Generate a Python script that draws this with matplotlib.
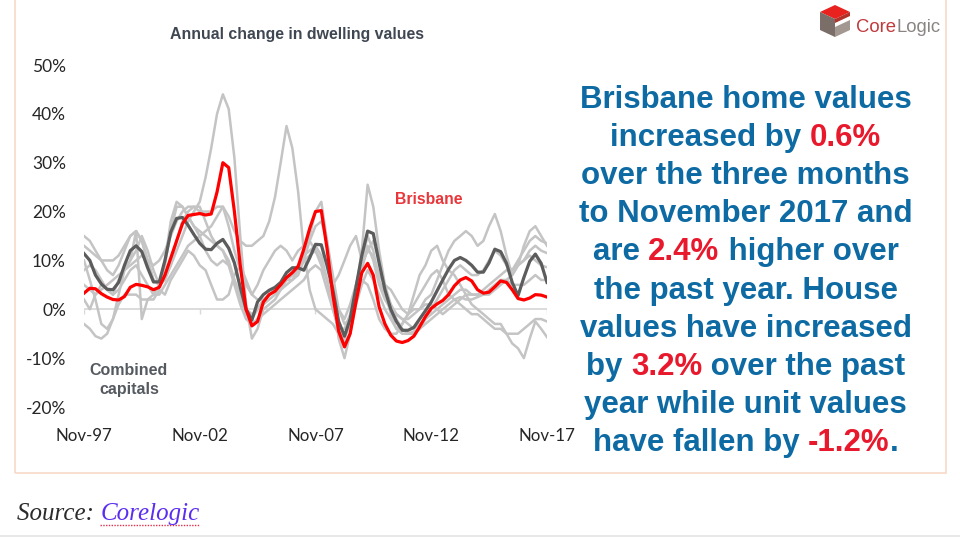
import matplotlib
matplotlib.use("Agg")
import matplotlib.pyplot as plt
from matplotlib.patches import Rectangle, Polygon
from matplotlib.lines import Line2D
import pandas as pd

W, H = 960, 538

# ---------------- data (quarterly, Nov-97 .. Nov-17) ----------------
dates = pd.date_range("1997-11-01", "2017-11-01", freq="3MS")

brisbane = [3.3, 4.3, 4.2, 3.2, 2.5, 2.0, 1.9, 2.6, 4.5, 5.1, 4.9, 4.6,
            4.0, 4.5, 7.0, 10.5, 14.0, 17.5, 19.2, 19.4, 19.6, 19.3, 19.5, 24.0,
            30.0, 29.0, 20.0, 9.0, 0.0, -3.4, -2.5, 1.5, 3.0, 3.7, 5.0, 6.5,
            7.5, 8.8, 12.3, 16.5, 20.0, 20.2, 12.5, 3.0, -4.5, -7.7, -5.0, 1.5,
            7.5, 9.4, 7.0, 0.5, -3.0, -5.3, -6.5, -6.8, -6.4, -5.5, -3.6, -1.5,
            0.2, 1.1, 1.8, 3.0, 4.8, 6.0, 6.5, 5.8, 4.0, 3.3, 3.5, 4.6,
            5.8, 5.5, 4.0, 2.2, 1.9, 2.3, 3.0, 2.9, 2.5]

combined = [11.4, 10.0, 7.0, 5.2, 4.1, 4.0, 5.5, 9.0, 12.0, 13.0, 11.8, 8.5,
            5.6, 5.6, 10.0, 15.8, 18.6, 18.8, 17.2, 15.3, 13.5, 12.3, 12.2, 13.5,
            14.3, 12.5, 9.5, 4.5, 0.0, -2.2, 1.5, 3.0, 3.9, 4.5, 5.5, 7.5,
            8.5, 8.5, 8.0, 10.5, 13.3, 13.2, 9.0, 4.0, -2.5, -5.5, -2.0, 4.5,
            11.0, 16.0, 15.5, 9.5, 4.0, 0.0, -2.5, -4.3, -4.3, -3.7, -2.0, -0.3,
            1.5, 3.8, 6.0, 8.2, 10.0, 10.6, 10.0, 9.0, 7.6, 7.6, 9.5, 12.3,
            11.8, 9.4, 5.5, 2.8, 6.5, 9.8, 11.3, 9.4, 5.5]

hobart = [-3, -4, -5.5, -6, -5, -2, 1, 3, 3, 3, 2, 2,
          3, 5, 7, 9, 12, 15, 18, 20, 22, 27, 33, 40,
          44, 41, 31, 15, 1, -6, -4, 0, 1, 2, 4, 6,
          7, 9, 11, 12, 13, 11, 6, 0, -4, -7, -5, 1,
          5, 8, 6, 3, 0, -2, -4, -5, -5, -4.5, -4, -3,
          -2, -1, 0, 1, 2, 2.5, 2, 2, 2.5, 3, 3, 4,
          5, 6, 7, 9, 10, 12, 13, 12, 11.5]

perth = [8, 9, 8, 6, 4, 3, 4, 6, 8, 9, 7, 5,
         3, 3, 5, 7, 9, 11, 13, 14, 15, 16, 17, 19,
         21, 19, 16, 14, 13, 13, 14, 15, 18, 23, 30, 37.5,
         33, 24, 12, 4, 0, -1, -2, -3, -5, -6, -3, 2,
         6, 5, 2, -2, -4, -5, -5, -3, -1, 1, 3, 5,
         7, 8, 6, 3, 2, 1, 0, -1, -1, -2, -3, -4,
         -4, -5, -5, -5, -4, -3, -2, -2, -2.5]

sydney = [13, 12, 11, 10, 10, 10, 11, 13, 15, 16, 14, 10,
          6, 5, 9, 16, 21, 21, 19, 17, 16, 15, 14, 13,
          12, 9, 5, 1, -2, -3, -2, -1, 0, 1, 2, 3,
          4, 5, 6, 8, 9, 8, 4, 0, -4, -4, -1, 5,
          10, 15, 12, 6, 3, 1, -1, -2, -2, -1, 0, 2,
          3, 6, 9, 12, 14, 15, 16, 15, 13, 14, 17, 19.5,
          16, 11, 7, 9, 13, 16, 17, 15, 13]

melbourne = [15, 14, 12, 10, 8, 7, 9, 12, 15, 16, 14, 10,
             6, 5, 10, 18, 22, 21, 19, 17, 15, 12, 10, 9,
             10, 9, 6, 2, -1, -2, 0, 2, 3, 4, 5, 6,
             7, 8, 10, 15, 20, 22, 14, 3, -6, -10, -5, 4,
             12, 25.5, 21, 12, 5, 1, -2, -4, -5, -5, -4, -2,
             0, 2, 4, 6, 8, 9, 8, 7, 7, 8, 10, 12,
             11, 9, 8, 10, 12, 14, 15, 14, 13.5]

adelaide = [5, 4, 3, 4, 5, 6, 7, 8, 9, 10, 11, 10,
            9, 10, 12, 15, 18, 20, 21, 21, 20, 20, 20, 21,
            21, 17, 12, 8, 5, 3, 2, 2, 3, 4, 5, 6,
            6, 7, 10, 14, 17, 18, 14, 7, 0, -3, -2, 3,
            8, 13, 10, 5, 2, 0, -1, -2, -3, -4, -3, -2,
            -1, 0, 1, 2, 3, 4, 4, 3, 3, 3, 4, 5,
            6, 6, 5, 5, 5, 6, 7, 6, 6]

darwin = [10, 6, 2, -3, -4, -2, 3, 8, 10, 16, -2, 2,
          2, 4, 3, 6, 8, 10, 12, 11, 9, 8, 5, 2,
          2, 3, 7, 9, 6, 3, 5, 8, 10, 12, 13, 12,
          10, 12, 13, 14, 12, 9, 6, 5, 7, 10, 13, 15,
          10, 12, 14, 10, 4, -1, -4, -3, -1, 3, 7, 9,
          12, 13, 10, 8, 7, 5, 3, 1, 0, -1, -2, -3,
          -3, -5, -7, -8, -10, -6, -2.5, -4, -5.7]

canberra = [2, 0, 3, 5, 4, 3, 6, 8, 10, 12, 15, 12,
            8, 5, 6, 9, 14, 18, 20, 21, 21, 18, 15, 13,
            12, 10, 6, 3, 0, -1, 0, 1, 2, 3, 4, 5,
            6, 8, 10, 11, 12, 10, 6, 2, 0, -2, 1, 5,
            9, 12, 11, 7, 5, 4, 2, 0, -1, 0, 0, 1,
            1, 0, -1, 0, 1, 2, 3, 3, 3, 4, 5, 6,
            7, 8, 8, 9, 10, 11, 10, 9, 8.6]

other_cities = [hobart, perth, sydney, melbourne, adelaide, darwin, canberra]

y_ticks = [-20, -10, 0, 10, 20, 30, 40, 50]
y_tick_labels = ["-20%", "-10%", "0%", "10%", "20%", "30%", "40%", "50%"]
x_ticks = pd.to_datetime(["1997-11-01", "2002-11-01", "2007-11-01",
                          "2012-11-01", "2017-11-01"])
x_tick_labels = ["Nov-97", "Nov-02", "Nov-07", "Nov-12", "Nov-17"]

title = "Annual change in dwelling values"

# ---------------- figure ----------------
def fx(px):
    return px / W

def fy(py):
    return 1 - py / H

fig = plt.figure(figsize=(W / 100, H / 100), dpi=100)
fig.patch.set_facecolor("white")

# frame of the slide
fig.patches.append(Rectangle((fx(15), fy(473)), fx(946) - fx(15), fy(-5) - fy(473),
                             transform=fig.transFigure, fill=False,
                             edgecolor="#f7d9c6", lw=1.2))
# thin rule at bottom
fig.add_artist(Line2D([0, 1], [fy(536), fy(536)], transform=fig.transFigure,
                      color="#e4e4e4", lw=1.2))

ax = fig.add_axes([fx(84), fy(407), fx(547) - fx(84), fy(65) - fy(407)])
ax.set_facecolor("none")
for s in ax.spines.values():
    s.set_visible(False)

ax.axhline(0, color="#d9d9d9", lw=1.3, zorder=1)
ax.vlines(x_ticks, -0.9, 0, color="#d9d9d9", lw=1.0, zorder=1)

for series in other_cities:
    ax.plot(dates, series, color="#c4c4c4", lw=1.8, zorder=2,
            solid_joinstyle="round")
ax.plot(dates, combined, color="#5c5c5c", lw=2.3, zorder=3, solid_joinstyle="round")
ax.plot(dates, brisbane, color="#ff0000", lw=2.3, zorder=4, solid_joinstyle="round")

ax.set_xlim(dates[0], dates[-1])
ax.set_ylim(-20, 50)
ax.set_yticks(y_ticks)
ax.set_yticklabels(y_tick_labels)
ax.set_xticks(x_ticks)
ax.set_xticklabels(x_tick_labels)
ax.tick_params(axis="y", length=0, pad=13, labelsize=12.5, labelcolor="#262626")
ax.tick_params(axis="x", length=0, pad=15, labelsize=12.2, labelcolor="#262626")
for lab in ax.get_xticklabels() + ax.get_yticklabels():
    lab.set_family(["Lato", "DejaVu Sans"])

sans = ["Liberation Sans", "DejaVu Sans"]
fig.text(fx(297), fy(35), title, ha="center", va="center", fontsize=11.4,
         fontweight="bold", color="#3f4752", family=sans)
fig.text(fx(395), fy(199), "Brisbane", ha="left", va="center", fontsize=11.3,
         fontweight="bold", color="#e8363a", family=sans)
fig.text(fx(129), fy(380), "Combined\ncapitals", ha="center", va="center",
         fontsize=11.5, fontweight="bold", color="#555a60", family=sans,
         linespacing=1.35)

# ---------------- logo ----------------
def poly(pts, color):
    fig.patches.append(Polygon([(fx(x), fy(y)) for x, y in pts], closed=True,
                               transform=fig.transFigure, facecolor=color,
                               edgecolor="none"))

poly([(835, 5), (850, 12), (835, 19), (820, 12)], "#e8231f")
poly([(820, 12), (835, 19), (835, 37), (820, 30)], "#7b6d67")
poly([(835, 27), (850, 20), (850, 30), (835, 37)], "#a39891")
poly([(835, 19), (850, 12), (850, 16), (835, 23)], "#b3312b")

blue = "#0d6aa3"
red = "#e8192c"

fig.canvas.draw()
renderer = fig.canvas.get_renderer()


def text_width(s, **kw):
    t = fig.text(0, 0, s, **kw)
    wdt = t.get_window_extent(renderer=renderer).width
    t.remove()
    return wdt


def colored_line(segments, cx, cy, **kw):
    full = "".join(s for s, _ in segments)
    total = text_width(full, **kw)
    left = cx - total / 2
    ref = text_width("I", **kw)
    prefix = ""
    for s, c in segments:
        off = 0 if prefix == "" else text_width(prefix + "I", **kw) - ref
        fig.text(fx(left + off), fy(cy), s, color=c, ha="left", va="center", **kw)
        prefix += s


logo_kw = dict(fontsize=13.3, family=sans)
fig.text(fx(856), fy(28), "Core", color="#c0393b", ha="left", va="center", **logo_kw)
cw = text_width("CoreI", **logo_kw) - text_width("I", **logo_kw)
fig.text(fx(856 + cw), fy(28), "Logic", color="#8a8482", ha="left", va="center", **logo_kw)

lines = [
    [("Brisbane home values", blue)],
    [("increased by ", blue), ("0.6%", red)],
    [("over the three months", blue)],
    [("to November 2017 and", blue)],
    [("are ", blue), ("2.4%", red), (" higher over", blue)],
    [("the past year. House", blue)],
    [("values have increased", blue)],
    [("by ", blue), ("3.2%", red), (" over the past", blue)],
    [("year while unit values", blue)],
    [("have fallen by ", blue), ("-1.2%", red), (".", blue)],
]
body_kw = dict(fontsize=22.5, fontweight="bold", family=sans)
for i, segs in enumerate(lines):
    colored_line(segs, 745.5, 100 + i * 38.1, **body_kw)

# ---------------- source ----------------
serif = ["Liberation Serif", "DejaVu Serif"]
src_kw = dict(fontsize=18, style="italic", family=serif)
fig.text(fx(17), fy(514), "Source: ", color="#2b2b2b", ha="left", va="center", **src_kw)
sw = text_width("Source: I", **src_kw) - text_width("I", **src_kw)
fig.text(fx(17 + sw), fy(514), "Corelogic", color="#5a2df0", ha="left", va="center", **src_kw)
lw_ = text_width("Corelogic", **src_kw)
fig.add_artist(Line2D([fx(17 + sw), fx(17 + sw + lw_)], [fy(525), fy(525)],
                      transform=fig.transFigure, color="#e0304a", lw=1.0,
                      linestyle=(0, (1, 1))))

fig.savefig("out.png", dpi=100, facecolor="white")
